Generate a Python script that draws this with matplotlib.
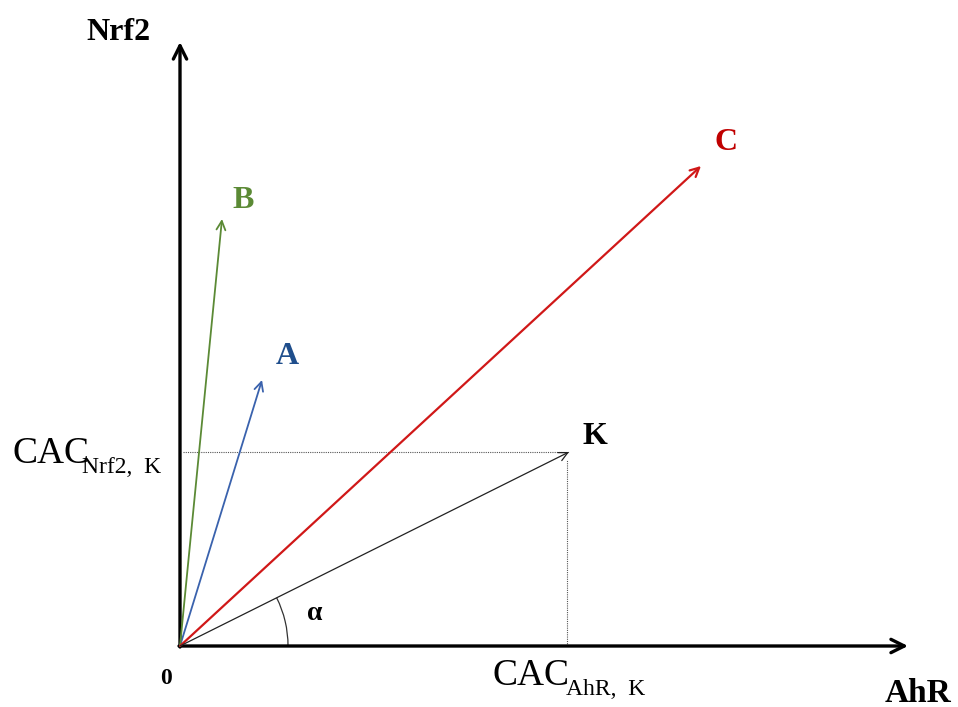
import numpy as np
import matplotlib
matplotlib.use("Agg")
import matplotlib.pyplot as plt
from matplotlib.patches import Arc

# 벡터 좌표 (원점 기준, 그림에서 읽은 값)
names = ["A", "B", "C", "K"]
vec_x = [82, 42, 521, 389]
vec_y = [266, 427, 480, 194]
colors = ["#3a62ad", "#5b8a35", "#d01818", "#222222"]
label_colors = ["#1f4e8c", "#5b8a35", "#c00000", "#000000"]

# 축 길이
x_axis_len = 728
y_axis_len = 604

plt.rcParams["font.family"] = ["Liberation Serif", "DejaVu Serif"]

fig = plt.figure(figsize=(9.58, 7.07), dpi=100)
ax = fig.add_axes([0, 0, 1, 1])
ax.set_xlim(-180, 778)
ax.set_ylim(-61, 646)
ax.axis("off")

# 축 화살표
ax.annotate("", xy=(x_axis_len, 0), xytext=(-1, 0),
            arrowprops=dict(arrowstyle="->", lw=2.4, color="black", mutation_scale=24,
                            shrinkA=0, shrinkB=0))
ax.annotate("", xy=(0, y_axis_len), xytext=(0, -1),
            arrowprops=dict(arrowstyle="->", lw=2.4, color="black", mutation_scale=24,
                            shrinkA=0, shrinkB=0))

# 점선 (K 투영)
kx, ky = vec_x[3], vec_y[3]
ax.plot([3, kx], [ky, ky], color="#555555", lw=0.8, ls=(0, (1, 1)))
ax.plot([kx - 2, kx - 2], [0, ky - 8], color="#555555", lw=0.8, ls=(0, (1, 1)))

# 벡터
widths = [1.3, 1.3, 1.6, 0.9]
for x, y, c, w in zip(vec_x, vec_y, colors, widths):
    ax.annotate("", xy=(x, y), xytext=(0, 0),
                arrowprops=dict(arrowstyle="->", lw=w, color=c, mutation_scale=16,
                                shrinkA=0, shrinkB=0))

# 각도 호
ang = np.degrees(np.arctan2(ky, kx))
ax.add_patch(Arc((0, 0), 216, 216, theta1=0, theta2=ang, color="#333333", lw=0.9))
ax.text(135, 32, "α", fontsize=20, fontweight="bold", ha="center", va="center")

# 벡터 라벨
offsets = [(25, 24), (21, 19), (25, 24), (26, 15)]
for n, x, y, c, (dx, dy) in zip(names, vec_x, vec_y, label_colors, offsets):
    ax.text(x + dx, y + dy, n, fontsize=23, fontweight="bold", color=c,
            ha="center", va="center")

# 축 라벨
ax.text(-62, 614, "Nrf2", fontsize=23, fontweight="bold", ha="center", va="center")
ax.text(738, -47, "AhR", fontsize=24, fontweight="bold", ha="center", va="center")
ax.text(-14, -33, "0", fontsize=17, fontweight="bold", ha="center", va="center")

# CAC 라벨
ax.text(-168, 183, "CAC", fontsize=27, ha="left", va="baseline")
ax.text(-98, 173, "Nrf2,  K", fontsize=17, ha="left", va="baseline")
ax.text(313, -39, "CAC", fontsize=27, ha="left", va="baseline")
ax.text(386, -49, "AhR,  K", fontsize=17, ha="left", va="baseline")

fig.savefig("out.png", dpi=100)
